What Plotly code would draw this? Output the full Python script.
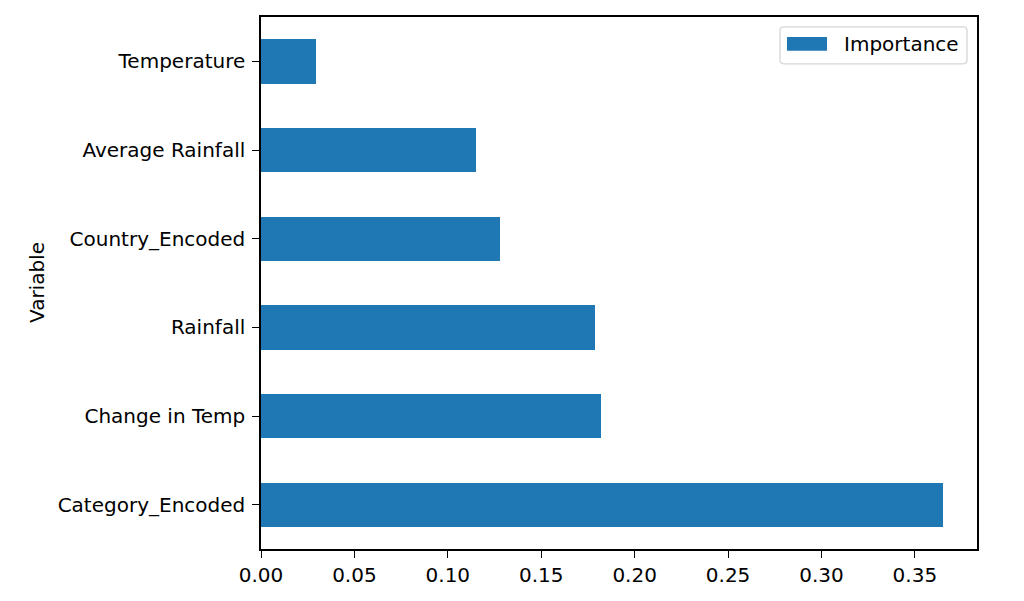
import plotly.graph_objects as go

# feature importances, bottom to top as drawn
variables = ['Category_Encoded', 'Change in Temp', 'Rainfall', 'Country_Encoded',
             'Average Rainfall', 'Temperature']
importance = [0.365, 0.182, 0.179, 0.128, 0.115, 0.0295]
x_ticks = [0.00, 0.05, 0.10, 0.15, 0.20, 0.25, 0.30, 0.35]

# page body has an 8px margin, so the figure is laid out 8px up/left
OFF = 8
W, H = 1024 - OFF, 601 - OFF
L, R, T, B = 261, 977, 15, 549
BLUE = '#1f77b4'
FONT = 'DejaVu Sans'


def px(x):
    return (x - L) / (R - L)


def py_(y):
    return (B - y) / (B - T)


fig = go.Figure()
fig.add_trace(go.Bar(x=importance, y=variables, orientation='h', width=0.5,
                     marker=dict(color=BLUE, line=dict(width=0)),
                     name='Importance', showlegend=False))

fig.update_xaxes(range=[0, max(importance) * 1.05], tickvals=x_ticks,
                 ticktext=['%.2f' % v for v in x_ticks],
                 showline=True, linewidth=1.5, linecolor='black', mirror=True,
                 ticks='outside', ticklen=7, tickwidth=1.2, tickcolor='black',
                 showgrid=False, zeroline=False)
fig.update_yaxes(type='category', categoryorder='array', categoryarray=variables,
                 range=[-0.5, len(variables) - 0.5],
                 showline=True, linewidth=1.5, linecolor='black', mirror=True,
                 ticks='outside', ticklen=7, tickwidth=1.2, tickcolor='black',
                 showgrid=False, zeroline=False, ticklabelstandoff=3)

# y axis title
fig.add_annotation(text='Variable', xref='paper', yref='paper', x=px(37), y=0.5,
                   textangle=-90, showarrow=False, xanchor='center', yanchor='middle',
                   font=dict(family=FONT, size=20, color='black'))

# matplotlib-style legend
x0, x1, y0, y1, r = px(780), px(967), py_(62), py_(25), 4
rx, ry = r / (R - L), r / (B - T)
path = (f'M {x0 + rx},{y0} L {x1 - rx},{y0} Q {x1},{y0} {x1},{y0 + ry} '
        f'L {x1},{y1 - ry} Q {x1},{y1} {x1 - rx},{y1} L {x0 + rx},{y1} '
        f'Q {x0},{y1} {x0},{y1 - ry} L {x0},{y0 + ry} Q {x0},{y0} {x0 + rx},{y0} Z')
fig.add_shape(type='path', path=path, xref='paper', yref='paper',
              line=dict(color='#d6d6d6', width=1.3), fillcolor='rgba(255,255,255,0.8)')
fig.add_shape(type='rect', xref='paper', yref='paper', x0=px(787), x1=px(827),
              y0=py_(49), y1=py_(35), fillcolor=BLUE, line=dict(width=0))
fig.add_annotation(text='Importance', xref='paper', yref='paper', x=px(842), y=py_(42),
                   showarrow=False, xanchor='left', yanchor='middle',
                   font=dict(family=FONT, size=20, color='black'))

fig.update_layout(width=W, height=H,
                  margin=dict(l=L - OFF, r=1024 - R, t=T - OFF, b=601 - B),
                  plot_bgcolor='white', paper_bgcolor='white',
                  font=dict(family=FONT, size=20, color='black'), bargap=0)

fig.write_html('out.html')
